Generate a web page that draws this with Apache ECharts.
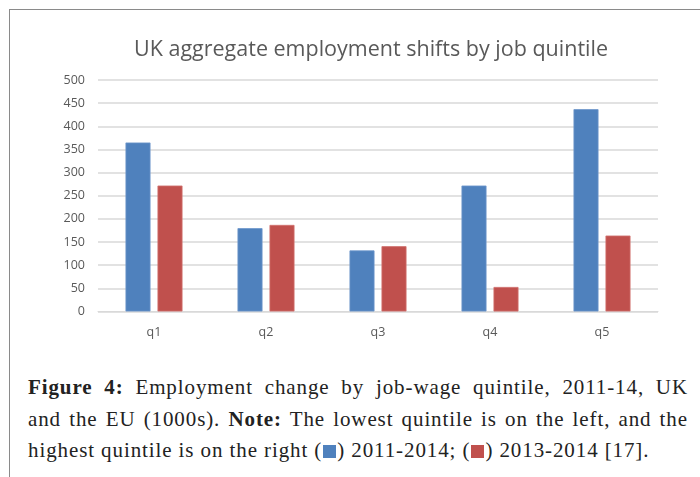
<!DOCTYPE html>
<html>
<head>
<meta charset="utf-8">
<script src="https://cdn.jsdelivr.net/npm/echarts@6/dist/echarts.min.js"></script>
<style>
  html, body { margin: 0; padding: 0; background: #fff; }
  #wrap { position: absolute; left: 0; top: 0; width: 700px; height: 477px; overflow: hidden; }
  #frame { position: absolute; left: 9px; top: 9px; width: 700px; height: 480px;
           border-left: 1.5px solid #8a8a8a; border-top: 1.5px solid #8a8a8a; box-sizing: border-box; }
  #chart { position: absolute; left: 0; top: 0; width: 700px; height: 360px; }
  #caption { position: absolute; left: 28px; top: 372px; width: 660px;
             font-family: "Liberation Serif", "DejaVu Serif", serif; font-size: 21px; color: #222;
             line-height: 31.5px; letter-spacing: 0.9px; }
  #caption .j { text-align: justify; text-align-last: justify; }
  .sq { display: inline-block; width: 13px; height: 13px; vertical-align: -1px; margin: 0 1px; }
</style>
</head>
<body>
<div id="wrap">
  <div id="frame"></div>
  <div id="chart"></div>
  <div id="caption">
    <div class="j"><b>Figure 4:</b> Employment change by job-wage quintile, 2011-14, UK</div>
    <div class="j">and the EU (1000s). <b>Note:</b> The lowest quintile is on the left, and the</div>
    <div>highest quintile is on the right (<span class="sq" style="background:#4f81bd"></span>) 2011-2014; (<span class="sq" style="background:#c0504d"></span>) 2013-2014 [17].</div>
  </div>
</div>
<script>
const categories = ['q1', 'q2', 'q3', 'q4', 'q5'];
const series2011_2014 = [365, 180, 132, 272, 437];
const series2013_2014 = [272, 187, 141, 53, 164];
const seriesNames = ['2011-2014', '2013-2014'];
const yTicks = { min: 0, max: 500, interval: 50 };

const chart = echarts.init(document.getElementById('chart'), null, { renderer: 'canvas' });
chart.setOption({
  animation: false,
  backgroundColor: 'transparent',
  title: {
    text: 'UK aggregate employment shifts by job quintile',
    left: 366, top: 34, textAlign: 'center',
    textStyle: { fontFamily: 'Open Sans', fontSize: 21.5, fontWeight: 'normal', color: '#595959' }
  },
  grid: { left: 98, right: 42, top: 80, bottom: 48.5 },
  xAxis: {
    type: 'category', data: categories,
    axisLine: { show: true, lineStyle: { color: '#d9d9d9', width: 1 } },
    axisTick: { show: false },
    axisLabel: { color: '#595959', fontFamily: 'Open Sans', fontSize: 12.5, margin: 14 }
  },
  yAxis: {
    type: 'value', min: yTicks.min, max: yTicks.max, interval: yTicks.interval,
    axisLine: { show: false }, axisTick: { show: false },
    axisLabel: { color: '#595959', fontFamily: 'Open Sans', fontSize: 12.5, margin: 13 },
    splitLine: { lineStyle: { color: '#d9d9d9', width: 1.5 } }
  },
  series: [
    { name: seriesNames[0], type: 'bar', data: series2011_2014, barWidth: 25, barGap: '28%',
      itemStyle: { color: '#4f81bd', borderColor: '#6d97cc', borderWidth: 0.8 } },
    { name: seriesNames[1], type: 'bar', data: series2013_2014, barWidth: 25,
      itemStyle: { color: '#c0504d', borderColor: '#d0716e', borderWidth: 0.8 } }
  ]
});
</script>
</body>
</html>
